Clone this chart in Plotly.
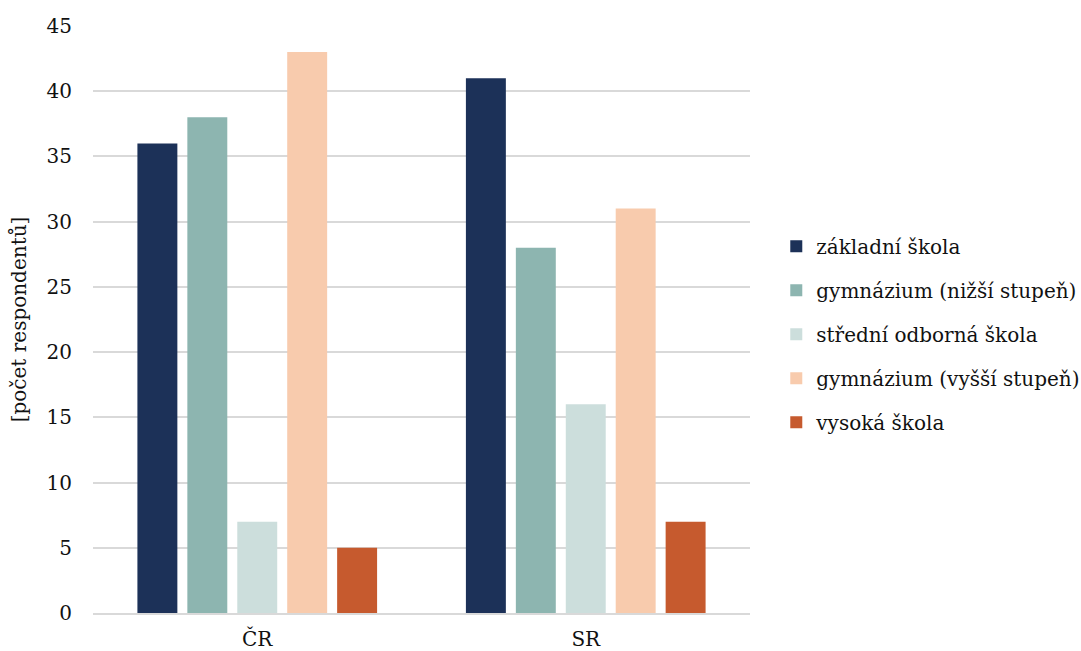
import plotly.graph_objects as go

# Respondent counts by school type, Czech Republic vs. Slovakia
categories = ["ČR", "SR"]
series_names = [
    "základní škola",
    "gymnázium (nižší stupeň)",
    "střední odborná škola",
    "gymnázium (vyšší stupeň)",
    "vysoká škola",
]
values_cr = [36, 38, 7, 43, 5]
values_sr = [41, 28, 16, 31, 7]
colors = ["#1C3158", "#8DB5B0", "#CCDEDC", "#F8CBAD", "#C65A2E"]
y_ticks = [0, 5, 10, 15, 20, 25, 30, 35, 40, 45]

FONT = "DejaVu Serif"

fig = go.Figure()
for i, name in enumerate(series_names):
    fig.add_trace(go.Bar(
        x=categories,
        y=[values_cr[i], values_sr[i]],
        name=name,
        marker=dict(color=colors[i], line=dict(width=0)),
        legendgroup=f"g{i}",
    ))

fig.update_layout(
    width=1081,
    height=651,
    barmode="group",
    bargap=0.24,
    bargroupgap=0.2,
    plot_bgcolor="white",
    paper_bgcolor="white",
    font=dict(family=FONT, size=20, color="#111111"),
    margin=dict(l=93, r=331, t=26, b=38, autoexpand=False),
    showlegend=True,
    legend=dict(
        x=1.04, xanchor="left",
        y=0.475, yanchor="middle",
        font=dict(family=FONT, size=20, color="#111111"),
        tracegroupgap=15,
        itemwidth=30,
        bgcolor="rgba(0,0,0,0)",
    ),
    xaxis=dict(
        automargin=False,
        showgrid=False,
        showline=True,
        linecolor="#D9D9D9",
        linewidth=2,
        ticks="",
        ticklabelstandoff=7,
        tickfont=dict(family=FONT, size=20),
    ),
    yaxis=dict(
        automargin=False,
        range=[0, 45],
        tickvals=y_ticks,
        showgrid=True,
        gridcolor="#D9D9D9",
        gridwidth=2,
        zeroline=False,
        showline=False,
        ticks="",
        ticklabelstandoff=20,
        tickfont=dict(family=FONT, size=20),
        title=dict(text="[počet respondentů]", font=dict(family=FONT, size=20), standoff=14),
    ),
)

fig.write_html("out.html")
